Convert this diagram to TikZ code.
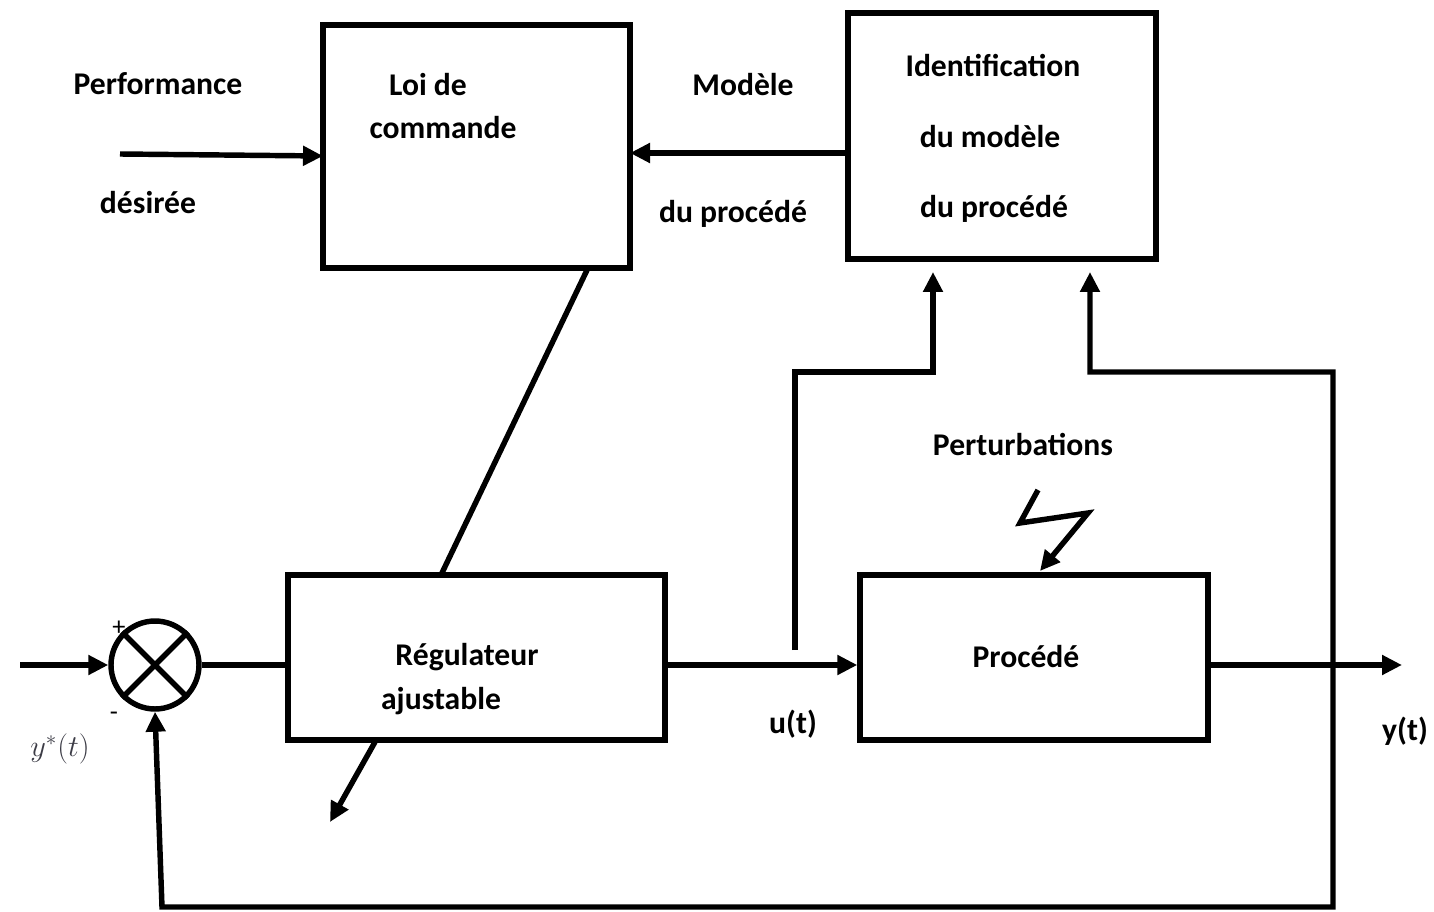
\documentclass[tikz,border=0pt]{standalone}
\usepackage{fontspec}
\setmainfont{Carlito}
\usetikzlibrary{arrows.meta}
\definecolor{ystar}{RGB}{60,60,70}
\begin{document}
\begin{tikzpicture}[x=0.02cm,y=-0.02cm,
  blk/.style={draw,line width=3.1pt,inner sep=0pt},
  lbl/.style={font=\fontsize{18}{22}\selectfont\bfseries,inner sep=0pt},
  ln/.style={line width=3.1pt},
  tip/.tip={Triangle[length=0.40cm,width=0.38cm]},
  arr/.style={line width=3.1pt,-tip},
  sgn/.style={font=\fontsize{15}{18}\selectfont,inner sep=0pt}]
\useasboundingbox (0,0) rectangle (1434,912);
% blocks
\node[blk,minimum width=6.14cm,minimum height=4.86cm] (loi) at (476.5,146.5) {};
\node[blk,minimum width=6.16cm,minimum height=4.92cm] (ident) at (1002,136) {};
\node[blk,minimum width=7.54cm,minimum height=3.30cm] (regul) at (476.5,657.5) {};
\node[blk,minimum width=6.96cm,minimum height=3.30cm] (proc) at (1034,657.5) {};
\node[draw,circle,line width=3.1pt,minimum size=1.76cm,inner sep=0pt] (sum) at (155,665) {};
\draw[ln] (sum.north west) -- (sum.south east);
\draw[ln] (sum.north east) -- (sum.south west);
% texts
\node[lbl] (tperf) at (158,84) {Performance};
\node[lbl] (tdes) at (148,203) {désirée};
\node[lbl] (tloi1) at (428,85) {Loi de};
\node[lbl] (tloi2) at (443,128) {commande};
\node[lbl] (tmod1) at (743,85) {Modèle};
\node[lbl] (tmod2) at (733,214) {du procédé};
\node[lbl] (tid1) at (993,66) {Identification};
\node[lbl] (tid2) at (990,137) {du modèle};
\node[lbl] (tid3) at (994,209) {du procédé};
\node[lbl] (tpert) at (1023,444) {Perturbations};
\node[lbl] (treg1) at (467,657) {Régulateur};
\node[lbl] (treg2) at (441,701) {ajustable};
\node[lbl] (tproc) at (1026,657) {Procédé};
\node[lbl] (tu) at (793,724) {u(t)};
\node[lbl] (ty) at (1405,731) {y(t)};
\node[inner sep=0pt,text=ystar,font=\fontsize{17}{20}\selectfont] (tys) at (60,749) {$y^{*}(t)$};
\node[sgn] (tplus) at (119,628) {+};
\node[sgn] (tminus) at (114,716) {-};
% coordinates
\coordinate (in) at (20,665);
\coordinate (perfL) at (120,154);
\coordinate (perfR) at (323,156);
\coordinate (idL) at (848,153);
\coordinate (loiR) at (630,153);
\coordinate (loiB) at (588,268);
\coordinate (regT) at (441,575);
\coordinate (regBL) at (375,742);
\coordinate (adjTip) at (330,822);
\coordinate (uStart) at (795,650);
\coordinate (uCorner) at (795,372);
\coordinate (uCorner2) at (933,372);
\coordinate (uTip) at (933,272);
\coordinate (yCorner) at (1333,372);
\coordinate (yCorner2) at (1090,372);
\coordinate (yTip) at (1090,272);
\coordinate (fbBR) at (1333,907);
\coordinate (fbBL) at (162,907);
\coordinate (out) at (1402,665);
\coordinate (z1) at (1038,490);
\coordinate (z2) at (1020,523);
\coordinate (z3) at (1088,513);
\coordinate (zTip) at (1040,571);
% connectors
\draw[arr] (in) -- (sum.west);
\draw[ln] (sum.east) -- (regul.west |- sum.east);
\draw[arr] (regul.east |- sum.east) -- (proc.west |- sum.east);
\draw[arr] (proc.east |- sum.east) -- (out);
\draw[arr] (perfL) -- (perfR);
\draw[arr] (idL) -- (loiR);
\draw[ln] (loiB) -- (regT);
\draw[arr] (regBL) -- (adjTip);
\draw[arr,line join=miter] (uStart) -- (uCorner) -- (uCorner2) -- (uTip);
\draw[line width=3.1pt,tip-tip,line join=miter] (yTip) -- (yCorner2) -- (yCorner) -- (fbBR) -- (fbBL) -- (sum.south);
\draw[arr,line join=miter] (z1) -- (z2) -- (z3) -- (zTip);
\end{tikzpicture}
\end{document}
